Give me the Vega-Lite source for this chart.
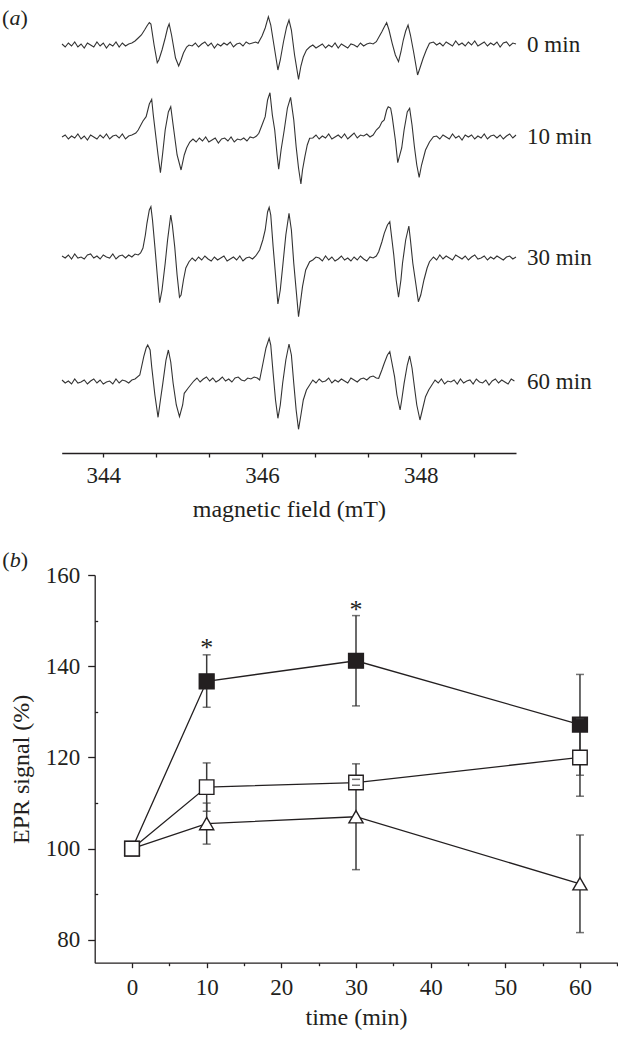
{
  "$schema": "https://vega.github.io/schema/vega-lite/v6.json",
  "width": 618,
  "height": 1038,
  "autosize": {"type": "none"},
  "padding": 0,
  "background": "white",
  "config": {
    "font": "Liberation Serif",
    "view": {"stroke": null},
    "axis": {"grid": false, "domainColor": "#231f20", "tickColor": "#231f20", "labelColor": "#231f20", "titleColor": "#231f20", "labelFont": "Liberation Serif", "titleFont": "Liberation Serif", "titleFontWeight": "normal", "labelFontSize": 23, "titleFontSize": 24, "domainWidth": 1.3, "tickWidth": 1.3, "labelOverlap": false, "labelFlush": false}
  },
  "layer": [
    {
      "layer": [
        {
          "data": {"values": [
            {"t": "0 min", "b": [343.48,343.52,343.56,343.60,343.64,343.68,343.72,343.76,343.80,343.84,343.88,343.92,343.96,344.00,344.04,344.08,344.12,344.16,344.20,344.24,344.28,344.32], "s": [409,406,410,407,411,406,409,405,410,408,406,411,407,410,405,409,407,411,406,410,407,409]},
            {"t": "0 min", "b": [344.36,344.40,344.44,344.48,344.52,344.55,344.58,344.60,344.64,344.68,344.70,344.74,344.78,344.81,344.83,344.86,344.91,344.95,344.98,345.01,345.05,345.08], "s": [410,412,415,418,423,427,430.5,429,408,390.3,393,403,415,425,429,418,395,387,393,400,406,408]},
            {"t": "0 min", "b": [345.12,345.16,345.20,345.24,345.28,345.32,345.36,345.40,345.44,345.48,345.52,345.56,345.60,345.64,345.68,345.72,345.76,345.80,345.84,345.88,345.92], "s": [407,410,406,409,411,407,410,405,409,407,410,408,411,406,409,410,407,411,409,410,411]},
            {"t": "0 min", "b": [345.95,346.00,346.04,346.08,346.11,346.15,346.20,346.23,346.27,346.31,346.34,346.37,346.41,346.46,346.49,346.52,346.56,346.60], "s": [409.7,417,425,436.3,428,408,383,393,411,426,433,423,398,373.7,387,396,403,406]},
            {"t": "0 min", "b": [346.64,346.68,346.72,346.76,346.80,346.84,346.88,346.92,346.96,347.00,347.04,347.08,347.12,347.16,347.20,347.24,347.28,347.32,347.36,347.40], "s": [408,405,407,409,405,408,406,410,405,409,407,405,409,408,406,410,407,409,410,409]},
            {"t": "0 min", "b": [347.44,347.48,347.51,347.54,347.57,347.60,347.64,347.68,347.72,347.75,347.78,347.81,347.84,347.87,347.91,347.96,347.99,348.03,348.07,348.11], "s": [411.3,417,421.3,426,430.3,423,409.7,398,391.3,401,413,422,428,418,401,378,385,394.7,403,409.7]},
            {"t": "0 min", "b": [348.16,348.20,348.24,348.28,348.32,348.36,348.40,348.44,348.48,348.52,348.56,348.60,348.64,348.68,348.72,348.76,348.80,348.84,348.88,348.92,348.96,349.00,349.04,349.08,349.12,349.16,349.20], "s": [411,408,410,407,411,409,407,412,408,410,407,411,408,412,407,409,411,407,410,408,411,406,410,411,407,410,409]},

            {"t": "10 min", "b": [343.48,343.52,343.56,343.60,343.64,343.68,343.72,343.76,343.80,343.84,343.88,343.92,343.96,344.00,344.04,344.08,344.12,344.16,344.20,344.24,344.28,344.32,344.36], "s": [316,318,314,317,315,319,314,317,313,318,316,314,318,315,319,314,317,318,315,319,314,317,318]},
            {"t": "10 min", "b": [344.41,344.44,344.50,344.54,344.58,344.61,344.63,344.66,344.69,344.72,344.75,344.78,344.82,344.85,344.88,344.93,344.98,345.02,345.05,345.09], "s": [320,323,332,336.3,349,353.7,338,318,298,280.3,301,323,341,346.3,328,298,283,298,305,311]},
            {"t": "10 min", "b": [345.13,345.17,345.21,345.25,345.29,345.33,345.37,345.41,345.45,345.49,345.53,345.57,345.61,345.65,345.69,345.73,345.77,345.81,345.85,345.89,345.93], "s": [314,311,315,312,316,311,313,315,310,314,315,312,316,311,314,313,315,312,316,315,317]},
            {"t": "10 min", "b": [345.96,346.00,346.04,346.07,346.10,346.13,346.16,346.19,346.21,346.24,346.28,346.32,346.36,346.40,346.43,346.46,346.49,346.51,346.54,346.57,346.60], "s": [319.7,328,336.3,353,360.3,338,323,298,283.7,303,323,345,355.7,333,306.3,285,269,283,296.3,308,314.7]},
            {"t": "10 min", "b": [346.64,346.68,346.72,346.76,346.80,346.84,346.88,346.92,346.96,347.00,347.04,347.08,347.12,347.16,347.20,347.24,347.28,347.32,347.36,347.40], "s": [315,318,314,317,315,319,314,316,318,315,319,314,317,320,315,318,317,319,316,318]},
            {"t": "10 min", "b": [347.44,347.48,347.51,347.54,347.57,347.59,347.62,347.64,347.68,347.71,347.76,347.79,347.83,347.86,347.89,347.92,347.95,347.98,348.01,348.06,348.11,348.16], "s": [323,326,331,333,343,346.3,345,336.3,313,290.3,305,323,341,344.7,328,306.3,288,275.7,288,303,311,316.3]},
            {"t": "10 min", "b": [348.20,348.24,348.28,348.32,348.36,348.40,348.44,348.48,348.52,348.56,348.60,348.64,348.68,348.72,348.76,348.80,348.84,348.88,348.92,348.96,349.00,349.04,349.08,349.12,349.16,349.20], "s": [317,314,318,316,314,319,315,317,313,318,316,318,314,317,315,319,314,317,318,315,318,314,317,319,315,318]},

            {"t": "30 min", "b": [343.48,343.52,343.56,343.60,343.64,343.68,343.72,343.76,343.80,343.84,343.88,343.92,343.96,344.00,344.04,344.08,344.12,344.16,344.20,344.24,344.28,344.32,344.36,344.40], "s": [197,195,198,194,199,195,196,194,198,199,195,197,194,198,196,195,199,194,197,198,195,198,196,199]},
            {"t": "30 min", "b": [344.44,344.47,344.50,344.53,344.55,344.58,344.60,344.62,344.65,344.68,344.71,344.74,344.78,344.81,344.85,344.87,344.90,344.93,344.96,344.98,345.01,345.04,345.08], "s": [198,200,205,218,229.7,243,246.3,233,206.3,178,150.3,163,189.7,213,238,228,206.3,178,155.7,158,173,185,191.3]},
            {"t": "30 min", "b": [345.12,345.16,345.20,345.24,345.28,345.32,345.36,345.40,345.44,345.48,345.52,345.56,345.60,345.64,345.68,345.72,345.76,345.80,345.84,345.88,345.92], "s": [195,192,196,193,197,194,192,196,193,195,197,192,194,196,193,197,192,195,196,194,197]},
            {"t": "30 min", "b": [345.97,346.01,346.04,346.07,346.09,346.11,346.14,346.17,346.20,346.23,346.26,346.30,346.34,346.37,346.40,346.43,346.46,346.48,346.51,346.55,346.60], "s": [203,213,223,241,245.7,238,206.3,178,149,163,186.3,218,239.7,223,189.7,163,136.3,148,166.3,183,191.3]},
            {"t": "30 min", "b": [346.64,346.68,346.72,346.76,346.80,346.84,346.88,346.92,346.96,347.00,347.04,347.08,347.12,347.16,347.20,347.24,347.28,347.32,347.36,347.40], "s": [193,196,195,192,197,193,196,192,194,197,193,195,192,196,193,197,194,192,196,195]},
            {"t": "30 min", "b": [347.44,347.47,347.51,347.54,347.58,347.61,347.63,347.66,347.69,347.72,347.75,347.77,347.81,347.85,347.87,347.90,347.94,347.97,348.00,348.04,348.08,348.11], "s": [197,201.3,211,219.7,228,231.3,218,198,173,155.7,173,189.7,213,227,213,189.7,168,151.3,158,173,185,191.3]},
            {"t": "30 min", "b": [348.16,348.20,348.24,348.28,348.32,348.36,348.40,348.44,348.48,348.52,348.56,348.60,348.64,348.68,348.72,348.76,348.80,348.84,348.88,348.92,348.96,349.00,349.04,349.08,349.12,349.16,349.20], "s": [196,193,198,194,197,195,193,198,196,194,197,193,196,198,194,195,197,193,196,194,197,195,193,196,197,194,196]},

            {"t": "60 min", "b": [343.48,343.52,343.56,343.60,343.64,343.68,343.72,343.76,343.80,343.84,343.88,343.92,343.96,344.00,344.04,344.08,344.12,344.16,344.20,344.24,344.28,344.32,344.36,344.40], "s": [73,70,72,69,74,70,71,73,69,72,74,70,73,69,71,72,69,74,70,73,72,70,73,74]},
            {"t": "60 min", "b": [344.46,344.51,344.54,344.56,344.59,344.61,344.65,344.69,344.72,344.75,344.79,344.82,344.85,344.88,344.92,344.96,345.00,345.02,345.07,345.10], "s": [78,96.3,105,108,103,86.3,58,35.7,53,69.7,93,103,91,69.7,48,36.3,48,59.7,65,68]},
            {"t": "60 min", "b": [345.14,345.18,345.22,345.26,345.30,345.34,345.38,345.42,345.46,345.50,345.54,345.58,345.62,345.66,345.70,345.74,345.78,345.82,345.86,345.90,345.94], "s": [72,75,71,74,76,72,75,71,73,76,72,74,71,75,76,73,72,75,74,76,75]},
            {"t": "60 min", "b": [345.97,346.02,346.05,346.09,346.11,346.14,346.17,346.20,346.23,346.26,346.30,346.34,346.37,346.40,346.43,346.46,346.49,346.52,346.56,346.60], "s": [73,93,105,114.7,108,79.7,53,34.7,48,69.7,93,109,98,69.7,43,23.7,38,53,63,68]},
            {"t": "60 min", "b": [346.64,346.68,346.72,346.76,346.80,346.84,346.88,346.92,346.96,347.00,347.04,347.08,347.12,347.16,347.20,347.24,347.28,347.32,347.36,347.40], "s": [73,70,74,71,72,75,70,73,71,74,72,70,75,73,71,74,75,73,76,77]},
            {"t": "60 min", "b": [347.44,347.47,347.51,347.54,347.58,347.61,347.63,347.67,347.70,347.74,347.76,347.79,347.83,347.86,347.89,347.92,347.95,347.99,348.02,348.06,348.10,348.14], "s": [75,74.7,83,89.7,98,101.3,93,76.3,58,43,53,69.7,88,97,85,66.3,48,33,43,56.3,63,68]},
            {"t": "60 min", "b": [348.18,348.22,348.26,348.30,348.34,348.38,348.42,348.46,348.50,348.54,348.58,348.62,348.66,348.70,348.74,348.78,348.82,348.86,348.90,348.94,348.98,349.02,349.06,349.10,349.14,349.18], "s": [73,70,74,69,72,71,73,69,74,70,72,73,69,74,71,70,73,68,72,74,70,73,71,69,74,72]}
          ]},
          "transform": [{"flatten": ["b", "s"]}],
          "mark": {"type": "line", "color": "#333333", "strokeWidth": 1.1, "interpolate": "linear"},
          "encoding": {
            "x": {"field": "b", "type": "quantitative", "title": "magnetic field (mT)",
                  "scale": {"domain": [343.476, 349.2], "range": [61.7, 516], "nice": false, "zero": false},
                  "axis": {"orient": "bottom", "offset": -585, "values": [344, 344.6667, 345.3333, 346, 346.6667, 347.3333, 348, 348.6667],
                           "labelExpr": "abs(datum.value - round(datum.value)) < 0.01 ? format(datum.value, 'd') : ''",
                           "tickSize": 4, "labelPadding": 7, "titlePadding": 10}},
            "y": {"field": "s", "type": "quantitative", "title": "signal",
                  "scale": {"domain": [0, 443], "range": [453, 10], "nice": false, "zero": false}, "axis": null},
            "detail": {"field": "t", "type": "nominal"}
          }
        },
        {
          "data": {"values": [
            {"lab": "0 min", "lx": 349.34, "ly": 408},
            {"lab": "10 min", "lx": 349.34, "ly": 316},
            {"lab": "30 min", "lx": 349.34, "ly": 195},
            {"lab": "60 min", "lx": 349.34, "ly": 71}
          ]},
          "mark": {"type": "text", "align": "left", "baseline": "middle", "fontSize": 23, "color": "#231f20"},
          "encoding": {
            "x": {"field": "lx", "type": "quantitative", "title": "magnetic field (mT)", "scale": {"domain": [343.476, 349.2], "range": [61.7, 516], "nice": false, "zero": false}},
            "y": {"field": "ly", "type": "quantitative", "title": "signal", "scale": {"domain": [0, 443], "range": [453, 10], "nice": false, "zero": false}, "axis": null},
            "text": {"field": "lab", "type": "nominal"}
          }
        },
        {
          "data": {"values": [{"px": 342.723, "py": 435.5, "p1": "(", "p2": "a", "p3": ")"}]},
          "layer": [
            {"mark": {"type": "text", "align": "left", "baseline": "middle", "fontSize": 22, "color": "#231f20"},
             "encoding": {"text": {"field": "p1", "type": "nominal"}}},
            {"mark": {"type": "text", "align": "left", "baseline": "middle", "fontSize": 22, "fontStyle": "italic", "color": "#231f20", "dx": 7.5},
             "encoding": {"text": {"field": "p2", "type": "nominal"}}},
            {"mark": {"type": "text", "align": "left", "baseline": "middle", "fontSize": 22, "color": "#231f20", "dx": 18.5},
             "encoding": {"text": {"field": "p3", "type": "nominal"}}}
          ],
          "encoding": {
            "x": {"field": "px", "type": "quantitative", "title": "magnetic field (mT)", "scale": {"domain": [343.476, 349.2], "range": [61.7, 516], "nice": false, "zero": false}},
            "y": {"field": "py", "type": "quantitative", "title": "signal", "scale": {"domain": [0, 443], "range": [453, 10], "nice": false, "zero": false}, "axis": null}
          }
        }
      ]
    },
    {
      "layer": [
        {
          "data": {"name": "epr"},
          "mark": {"type": "line", "color": "#231f20", "strokeWidth": 1.3},
          "encoding": {
            "x": {"field": "t", "type": "quantitative", "title": "time (min)",
                  "scale": {"domain": [-5, 65], "range": [94.7, 617.3], "nice": false, "zero": false},
                  "axis": {"orient": "bottom", "offset": -75.3, "values": [0, 5, 10, 15, 20, 25, 30, 35, 40, 45, 50, 55, 60, 65],
                           "labelExpr": "datum.value % 10 === 0 ? datum.label : ''",
                           "tickSize": {"condition": {"test": "datum.value % 10 === 0", "value": 5}, "value": 3},
                           "labelPadding": 9, "titlePadding": 6}},
            "y": {"field": "m", "type": "quantitative", "title": "EPR signal (%)",
                  "scale": {"domain": [75, 160], "range": [962.7, 575], "nice": false, "zero": false},
                  "axis": {"orient": "left", "offset": -94.7, "values": [80, 90, 100, 110, 120, 130, 140, 150, 160],
                           "labelExpr": "datum.value % 20 === 0 ? datum.label : ''",
                           "tickSize": {"condition": {"test": "datum.value % 20 === 0", "value": 7}, "value": -3},
                           "labelPadding": 8, "titlePadding": 12}},
            "detail": {"field": "g", "type": "nominal"}
          }
        },
        {
          "data": {"name": "epr"},
          "transform": [{"filter": "datum.t > 0"}],
          "mark": {"type": "rule", "color": "#3a3a3a", "strokeWidth": 1.5},
          "encoding": {
            "x": {"field": "t", "type": "quantitative", "title": "time (min)", "scale": {"domain": [-5, 65], "range": [94.7, 617.3], "nice": false, "zero": false}},
            "y": {"field": "lo", "type": "quantitative", "title": "EPR signal (%)", "scale": {"domain": [75, 160], "range": [962.7, 575], "nice": false, "zero": false}},
            "y2": {"field": "hi"}
          }
        },
        {
          "data": {"name": "epr"},
          "mark": {"type": "point", "filled": true, "stroke": "#231f20", "strokeWidth": 1.4, "opacity": 1},
          "encoding": {
            "x": {"field": "t", "type": "quantitative", "title": "time (min)", "scale": {"domain": [-5, 65], "range": [94.7, 617.3], "nice": false, "zero": false}},
            "y": {"field": "m", "type": "quantitative", "title": "EPR signal (%)", "scale": {"domain": [75, 160], "range": [962.7, 575], "nice": false, "zero": false}},
            "shape": {"field": "g", "type": "nominal", "scale": {"domain": ["filled", "open", "tri"], "range": ["square", "square", "triangle-up"]}, "legend": null},
            "fill": {"field": "g", "type": "nominal", "scale": {"domain": ["filled", "open", "tri"], "range": ["#231f20", "white", "white"]}, "legend": null},
            "size": {"field": "g", "type": "nominal", "scale": {"domain": ["filled", "open", "tri"], "range": [220, 200, 310]}, "legend": null}
          }
        },
        {
          "data": {"name": "epr"},
          "transform": [{"filter": "datum.t > 0"}],
          "mark": {"type": "tick", "orient": "horizontal", "size": 8, "thickness": 1.5, "color": "#3a3a3a"},
          "encoding": {
            "x": {"field": "t", "type": "quantitative", "title": "time (min)", "scale": {"domain": [-5, 65], "range": [94.7, 617.3], "nice": false, "zero": false}},
            "y": {"field": "lo", "type": "quantitative", "title": "EPR signal (%)", "scale": {"domain": [75, 160], "range": [962.7, 575], "nice": false, "zero": false}}
          }
        },
        {
          "data": {"name": "epr"},
          "transform": [{"filter": "datum.t > 0"}],
          "mark": {"type": "tick", "orient": "horizontal", "size": 8, "thickness": 1.5, "color": "#3a3a3a"},
          "encoding": {
            "x": {"field": "t", "type": "quantitative", "title": "time (min)", "scale": {"domain": [-5, 65], "range": [94.7, 617.3], "nice": false, "zero": false}},
            "y": {"field": "hi", "type": "quantitative", "title": "EPR signal (%)", "scale": {"domain": [75, 160], "range": [962.7, 575], "nice": false, "zero": false}}
          }
        },
        {
          "data": {"values": [{"t": 10, "v": 144.1, "star": "*"}, {"t": 30, "v": 152.4, "star": "*"}]},
          "mark": {"type": "text", "align": "center", "baseline": "middle", "fontSize": 26, "fill": "#231f20", "color": "#231f20"},
          "encoding": {
            "x": {"field": "t", "type": "quantitative", "title": "time (min)", "scale": {"domain": [-5, 65], "range": [94.7, 617.3], "nice": false, "zero": false}},
            "y": {"field": "v", "type": "quantitative", "title": "EPR signal (%)", "scale": {"domain": [75, 160], "range": [962.7, 575], "nice": false, "zero": false}},
            "text": {"field": "star", "type": "nominal"}
          }
        },
        {
          "data": {"values": [{"t": -17.4, "v": 163.3, "p1": "(", "p2": "b", "p3": ")"}]},
          "layer": [
            {"mark": {"type": "text", "align": "left", "baseline": "middle", "fontSize": 22, "color": "#231f20"},
             "encoding": {"text": {"field": "p1", "type": "nominal"}}},
            {"mark": {"type": "text", "align": "left", "baseline": "middle", "fontSize": 22, "fontStyle": "italic", "color": "#231f20", "dx": 7.5},
             "encoding": {"text": {"field": "p2", "type": "nominal"}}},
            {"mark": {"type": "text", "align": "left", "baseline": "middle", "fontSize": 22, "color": "#231f20", "dx": 18.5},
             "encoding": {"text": {"field": "p3", "type": "nominal"}}}
          ],
          "encoding": {
            "x": {"field": "t", "type": "quantitative", "title": "time (min)", "scale": {"domain": [-5, 65], "range": [94.7, 617.3], "nice": false, "zero": false}},
            "y": {"field": "v", "type": "quantitative", "title": "EPR signal (%)", "scale": {"domain": [75, 160], "range": [962.7, 575], "nice": false, "zero": false}}
          }
        }
      ]
    }
  ],
  "datasets": {
    "epr": [
      {"g": "tri", "t": 0, "m": 100, "lo": 100, "hi": 100},
      {"g": "tri", "t": 10, "m": 105.5, "lo": 101, "hi": 110},
      {"g": "tri", "t": 30, "m": 107, "lo": 95.4, "hi": 118.6},
      {"g": "tri", "t": 60, "m": 92.3, "lo": 81.6, "hi": 103},
      {"g": "filled", "t": 0, "m": 100, "lo": 100, "hi": 100},
      {"g": "filled", "t": 10, "m": 136.7, "lo": 131, "hi": 142.5},
      {"g": "filled", "t": 30, "m": 141.2, "lo": 131.3, "hi": 151.1},
      {"g": "filled", "t": 60, "m": 127.2, "lo": 116.1, "hi": 138.2},
      {"g": "open", "t": 0, "m": 100, "lo": 100, "hi": 100},
      {"g": "open", "t": 10, "m": 113.5, "lo": 108.2, "hi": 118.8},
      {"g": "open", "t": 30, "m": 114.5, "lo": 113.9, "hi": 115.2},
      {"g": "open", "t": 60, "m": 120, "lo": 111.5, "hi": 128.5}
    ]
  },
  "resolve": {"scale": {"x": "independent", "y": "independent"}, "axis": {"x": "independent", "y": "independent"}}
}
